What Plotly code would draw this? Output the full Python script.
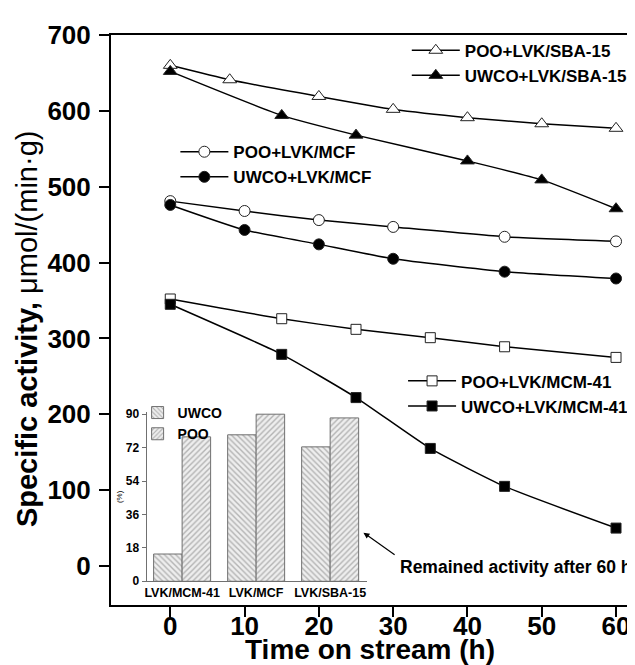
import plotly.graph_objects as go

# ---- main chart data (Specific activity, umol/(min g)) ----
time_poo_sba = [0, 8, 20, 30, 40, 50, 60]
poo_sba = [660, 641, 619, 602, 591, 583, 577]
time_uwco_sba = [0, 15, 25, 40, 50, 60]
uwco_sba = [652, 594, 568, 534, 509, 471]

time_poo_mcf = [0, 10, 20, 30, 45, 60]
poo_mcf = [481, 468, 456, 447, 434, 428]
time_uwco_mcf = [0, 10, 20, 30, 45, 60]
uwco_mcf = [476, 443, 424, 405, 388, 379]

time_poo_mcm = [0, 15, 25, 35, 45, 60]
poo_mcm = [352, 326, 312, 301, 289, 275]
time_uwco_mcm = [0, 15, 25, 35, 45, 60]
uwco_mcm = [345, 279, 222, 155, 105, 50]

x_ticks = [0, 10, 20, 30, 40, 50, 60]
y_ticks = [0, 100, 200, 300, 400, 500, 600, 700]

# ---- inset data (remained activity after 60 h, %) ----
supports = ["LVK/MCM-41", "LVK/MCF", "LVK/SBA-15"]
remained_uwco = [14.7, 78.9, 72.4]
remained_poo = [77.8, 90.0, 88.0]
inset_ticks = [0, 18, 36, 54, 72, 90]

FONT = "Arial, Liberation Sans, sans-serif"
LINE = dict(color="black", width=1.5, shape="spline", smoothing=0.5)

fig = go.Figure()

def add_series(x, y, name, symbol, size, filled, legend):
    fig.add_trace(go.Scatter(
        x=x, y=y, name=name, mode="lines+markers", line=LINE,
        marker=dict(symbol=symbol, size=size,
                    color="black" if filled else "white",
                    line=dict(color="#222", width=1)),
        legend=legend, legendgroup=name,
    ))

add_series(time_poo_sba, poo_sba, "POO+LVK/SBA-15", "triangle-up", 12, False, "legend")
add_series(time_uwco_sba, uwco_sba, "UWCO+LVK/SBA-15", "triangle-up", 12, True, "legend")
add_series(time_poo_mcf, poo_mcf, "POO+LVK/MCF", "circle", 11, False, "legend2")
add_series(time_uwco_mcf, uwco_mcf, "UWCO+LVK/MCF", "circle", 11, True, "legend2")
add_series(time_poo_mcm, poo_mcm, "POO+LVK/MCM-41", "square", 10, False, "legend3")
add_series(time_uwco_mcm, uwco_mcm, "UWCO+LVK/MCM-41", "square", 10, True, "legend3")

# inset bars
bar_marker = lambda shape: dict(
    color="#e0e0e0", line=dict(color="#707070", width=1),
    pattern=dict(shape=shape, fgcolor="#777777", bgcolor="#eeeeee",
                 size=4, solidity=0.35))
fig.add_trace(go.Bar(x=supports, y=remained_uwco, name="UWCO", xaxis="x2", yaxis="y2",
                     marker=bar_marker("\\"), legend="legend4"))
fig.add_trace(go.Bar(x=supports, y=remained_poo, name="POO", xaxis="x2", yaxis="y2",
                     marker=bar_marker("/"), legend="legend4"))

leg_common = dict(bgcolor="rgba(0,0,0,0)", borderwidth=0, xanchor="left", yanchor="top",
                  font=dict(family=FONT, size=17, color="black", weight="bold"),
                  itemwidth=48, tracegroupgap=4, traceorder="normal")

fig.update_layout(
    width=635, height=665,
    margin=dict(l=103, r=0, t=27, b=68, autoexpand=False),
    paper_bgcolor="white", plot_bgcolor="white",
    font=dict(family=FONT, color="black"),
    showlegend=True,
    bargap=0.23, bargroupgap=0,
    xaxis=dict(
        range=[-7.98, 63.63], tickvals=x_ticks, ticks="outside", ticklen=10,
        tickwidth=2, tickcolor="black", showline=True, linewidth=2,
        linecolor="black", mirror=True, showgrid=False, zeroline=False,
        tickfont=dict(family=FONT, size=26, weight="bold"),
        ticklabelstandoff=-13,
        automargin=False,
    ),
    yaxis=dict(
        range=[-51.4, 700], tickvals=y_ticks, ticks="outside", ticklen=10,
        tickwidth=2, tickcolor="black", showline=True, linewidth=2,
        linecolor="black", mirror=False, showgrid=False, zeroline=False,
        tickfont=dict(family=FONT, size=26, weight="bold"),
        ticklabelstandoff=3,
        automargin=False,
    ),
    xaxis2=dict(
        domain=[0.0669, 0.4815], anchor="y2", range=[-0.48, 2.5],
        showline=True, linewidth=1, linecolor="#707070", ticks="",
        showgrid=False, zeroline=False,
        tickfont=dict(family=FONT, size=12.5, weight="bold"),
        automargin=False,
    ),
    yaxis2=dict(
        domain=[0.0416, 0.338], anchor="x2", range=[0, 91],
        tickvals=inset_ticks, ticks="outside", ticklen=4, tickcolor="#707070",
        showline=True, linewidth=1, linecolor="#707070",
        showgrid=False, zeroline=False,
        tickfont=dict(family=FONT, size=12, weight="bold"),
        title=dict(text="(%)", standoff=2, font=dict(family=FONT, size=8)),
        automargin=False,
    ),
    legend=dict(x=0.556, y=1.004, **leg_common),
    legend2=dict(x=0.121, y=0.826, **leg_common),
    legend3=dict(x=0.549, y=0.424, **leg_common),
    legend4=dict(x=0.050, y=0.365, bgcolor="rgba(0,0,0,0)", borderwidth=0,
                 xanchor="left", yanchor="top", traceorder="normal",
                 font=dict(family=FONT, size=14, color="black", weight="bold"),
                 itemwidth=30, tracegroupgap=0),
    annotations=[
        dict(x=0.487, y=-0.0772, xref="paper", yref="paper", xanchor="center",
             yanchor="middle", text="<b>Time on stream (h)</b>", showarrow=False,
             font=dict(family=FONT, size=28, color="black")),
        dict(x=-0.158, y=0.4857, xref="paper", yref="paper", xanchor="center",
             yanchor="middle", textangle=-90,
             text="<b>Specific activity, </b>μmol/(min·g)", showarrow=False,
             font=dict(family=FONT, size=29, color="black")),
        dict(x=30.6, y=-1.5, xref="x", yref="y", xanchor="left", yanchor="middle",
             text="<b>Remained activity after 60 h</b>", showarrow=False,
             font=dict(family=FONT, size=17.5, color="black")),
        dict(x=26.0, y=43.9, ax=30.4, ay=13.6, xref="x", yref="y",
             axref="x", ayref="y", text="", showarrow=True, arrowhead=2,
             arrowsize=1, arrowwidth=1.2, arrowcolor="black"),
    ],
)

fig.write_html("out.html")
